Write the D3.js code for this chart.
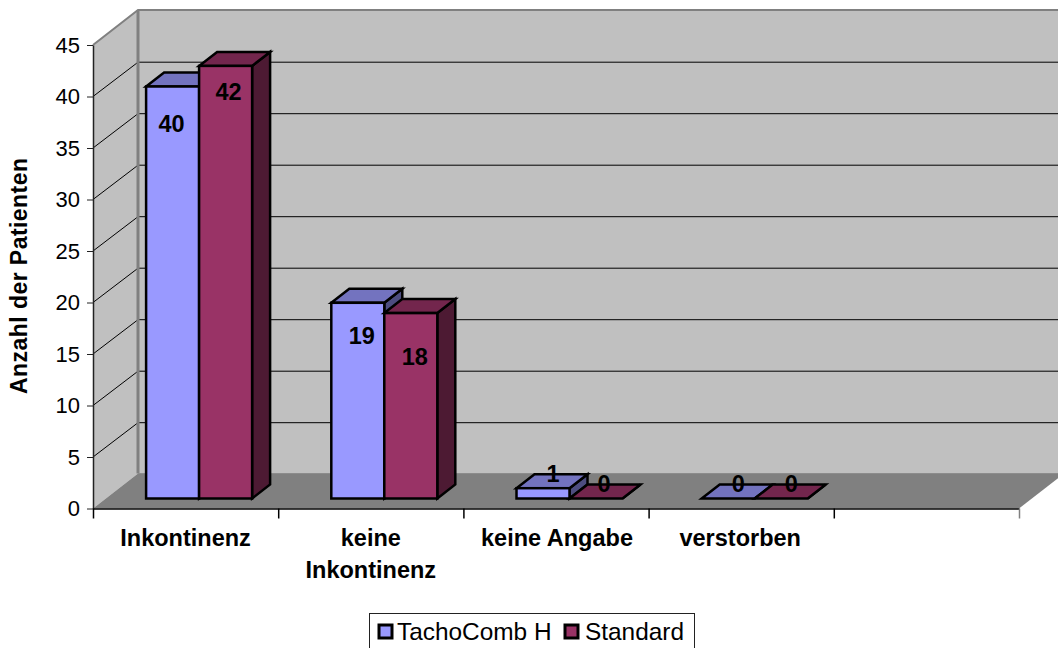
<!DOCTYPE html>
<html><head><meta charset="utf-8">
<script src="https://cdn.jsdelivr.net/npm/d3@7"></script>
<style>html,body{margin:0;padding:0;background:#fff}svg{display:block}text{font-family:"Liberation Sans",Arial,sans-serif;fill:#000}</style>
</head><body><svg id="c" width="1058" height="648"></svg>
<script>
const categories = [["Inkontinenz"],["keine","Inkontinenz"],["keine Angabe"],["verstorben"]];
const seriesNames = ["TachoComb H","Standard"];
const tachoComb = [40,19,1,0];
const standard = [42,18,0,0];
const yTicks = [0,5,10,15,20,25,30,35,40,45];
const yTitle = "Anzahl der Patienten";
const frontColors = ["#9999FF","#993366"], topColors = ["#7373BF","#73264D"], sideColors = ["#4D4D80","#4D1A33"];

const svg = d3.select("#c");
const x0 = 93, y0 = 508.5, yTop = 45, wallDx = 45, wallDy = 35;
const y = d3.scaleLinear().domain([0,45]).range([y0,yTop]);
const x = d3.scaleLinear().domain([0,5]).range([x0,1019]);
const barDx = 18, barDy = 14, barW = 53, baseShift = 10, shiftX = 13.5;
const pts = a => a.map(p=>p.join(",")).join(" ");
// label nudges relative to bar top, per series and category
const labelDy = [[37,33,-14,-15],[26,44,-15,-15]];
const labelDx = [[-1,4,10,10],[3,4,8,10]];
const catNudge = [0,0,1,-1];

// walls
svg.append("polygon").attr("points",pts([[x0,yTop],[x0+wallDx,yTop-wallDy],[1058,yTop-wallDy],[1058,y0-wallDy],[x0+wallDx,y0-wallDy],[x0,y0]])).attr("fill","#C0C0C0");
// floor
svg.append("polygon").attr("points",pts([[x0,y0],[x0+wallDx,y0-wallDy],[1019+wallDx,y0-wallDy],[1019,y0]])).attr("fill","#808080");
// gridlines
yTicks.filter(t=>t>0&&t<45).forEach(t=>{
  svg.append("polyline").attr("points",pts([[x0,y(t)],[x0+wallDx,y(t)-wallDy+0.7],[1058,y(t)-wallDy+0.7]])).attr("fill","none").attr("stroke","#000").attr("stroke-width",1);
});
// wall edges
svg.append("polyline").attr("points",pts([[x0,yTop],[x0+wallDx,yTop-wallDy],[1058,yTop-wallDy]])).attr("fill","none").attr("stroke","#808080").attr("stroke-width",2);
svg.append("line").attr("x1",x0+wallDx).attr("x2",x0+wallDx).attr("y1",yTop-wallDy).attr("y2",y0-wallDy).attr("stroke","#808080").attr("stroke-width",3);
svg.append("line").attr("x1",x0+wallDx).attr("x2",1058).attr("y1",y0-wallDy).attr("y2",y0-wallDy).attr("stroke","#8c8c8c").attr("stroke-width",1);

// axes
const yAxis = d3.axisLeft(y).tickValues(yTicks).tickSize(6).tickSizeOuter(0).tickPadding(7);
const gy = svg.append("g").attr("transform",`translate(${x0},0)`).call(yAxis);
gy.selectAll("text").style("font-size","22px").style("font-family","'Liberation Sans',Arial,sans-serif");
gy.selectAll(".domain,line").attr("stroke","#222");
gy.select(".domain").attr("stroke-width",1.5);
const gx = svg.append("g").attr("transform",`translate(0,${y0})`).call(d3.axisBottom(x).tickValues(d3.range(0,6)).tickSize(10).tickSizeOuter(0).tickFormat(""));
gx.selectAll(".domain,line").attr("stroke","#000").attr("stroke-width",1.5);
gx.selectAll(".tick:last-of-type line").attr("stroke","#808080");

// bars
const series = [tachoComb,standard];
d3.range(4).forEach(c=>{
  series.forEach((vals,s)=>{
    const v = vals[c];
    const cx = (x(c)+x(c+1))/2 + shiftX;
    const L = cx - barW + s*barW, R = L + barW;
    const B = y(0)-baseShift, T = y(v)-baseShift;
    const g = svg.append("g").attr("stroke","#000").attr("stroke-width",2.5).attr("stroke-linejoin","miter");
    g.append("polygon").attr("points",pts([[R,B],[R+barDx,B-barDy],[R+barDx,T-barDy],[R,T]])).attr("fill",sideColors[s]);
    g.append("polygon").attr("points",pts([[L,T],[L+barDx,T-barDy],[R+barDx,T-barDy],[R,T]])).attr("fill",topColors[s]);
    if(v>0) g.append("rect").attr("x",L).attr("y",T).attr("width",barW).attr("height",B-T).attr("fill",frontColors[s]);
  });
});
// value labels
d3.range(4).forEach(c=>{
  series.forEach((vals,s)=>{
    const v = vals[c];
    const cx = (x(c)+x(c+1))/2 + shiftX;
    const mid = cx - barW/2 + s*barW;
    svg.append("text").attr("x",mid+labelDx[s][c]).attr("y",y(v)-baseShift+labelDy[s][c]).attr("dy","0.35em")
      .attr("text-anchor","middle").attr("font-weight","bold").attr("font-size",23.5).text(v);
  });
});
// category labels
categories.forEach((lines,i)=>{
  lines.forEach((t,j)=>{
    svg.append("text").attr("x",(x(i)+x(i+1))/2+catNudge[i]).attr("y",546+j*32).attr("text-anchor","middle").attr("font-weight","bold").attr("font-size",23.5).text(t);
  });
});
// y title
svg.append("text").attr("transform","translate(27,276) rotate(-90)").attr("text-anchor","middle").attr("font-weight","bold").attr("font-size",23).attr("textLength",236).text(yTitle);
// legend
const lg = svg.append("g");
lg.append("rect").attr("x",369.5).attr("y",613.5).attr("width",325).attr("height",40).attr("fill","#fff").attr("stroke","#222");
[[378,397],[564,585]].forEach((p,i)=>{
  lg.append("rect").attr("x",p[0]+1).attr("y",625).attr("width",13).attr("height",13).attr("fill",frontColors[i]).attr("stroke","#000").attr("stroke-width",3);
  lg.append("text").attr("x",p[1]).attr("y",640).attr("font-size",24.4).text(seriesNames[i]);
});
</script></body></html>
